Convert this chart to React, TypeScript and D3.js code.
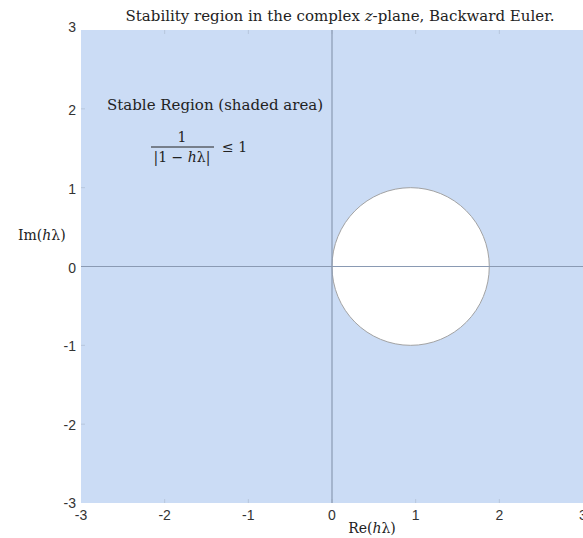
import { useEffect, useRef } from "react";
import * as d3 from "d3";

const xTicks = [-3, -2, -1, 0, 1, 2, 3];
const yTicks = [-3, -2, -1, 0, 1, 2, 3];
// unstable disc as it appears in the picture: centre and radii (re, im)
const discCentre = [0.94, 0];
const discRadius = [0.94, 1];
const titleText = "Stability region in the complex ";
const titleTail = "-plane, Backward Euler.";

const App = () => {
  const ref = useRef<SVGSVGElement>(null);

  useEffect(() => {
    const svg = d3.select(ref.current);
    svg.selectAll("*").remove();

    const x = d3.scaleLinear().domain([-3, 3]).range([81, 583]);
    const y = d3.scaleLinear().domain([-3, 3]).range([503, 30]);
    const serif = "'DejaVu Serif', 'Liberation Serif', serif";
    const sans = "'Liberation Sans', Arial, sans-serif";
    const ink = "#222";

    // shaded plane
    svg.append("rect")
      .attr("x", x(-3)).attr("y", y(3))
      .attr("width", x(3) - x(-3)).attr("height", y(-3) - y(3))
      .attr("fill", "#cbdcf5");

    // axis ticks inside the box
    const tickCol = "#b7c6dc";
    svg.append("g").selectAll("line").data(xTicks.slice(1, -1)).join("line")
      .attr("x1", d => x(d)).attr("x2", d => x(d))
      .attr("y1", y(3)).attr("y2", y(3) + 4)
      .attr("stroke", tickCol);
    svg.append("g").selectAll("line").data(xTicks.slice(1, -1)).join("line")
      .attr("x1", d => x(d)).attr("x2", d => x(d))
      .attr("y1", y(-3)).attr("y2", y(-3) - 4)
      .attr("stroke", tickCol);
    svg.append("g").selectAll("line").data(yTicks.slice(1, -1)).join("line")
      .attr("x1", x(-3)).attr("x2", x(-3) + 4)
      .attr("y1", d => y(d)).attr("y2", d => y(d))
      .attr("stroke", tickCol);

    // unstable disc
    svg.append("ellipse")
      .attr("cx", x(discCentre[0])).attr("cy", y(discCentre[1]))
      .attr("rx", x(discRadius[0]) - x(0)).attr("ry", y(0) - y(discRadius[1]))
      .attr("fill", "#ffffff")
      .attr("stroke", "#a3a3a3").attr("stroke-width", 1);

    // axes through origin
    svg.append("line")
      .attr("x1", x(-3)).attr("x2", x(3)).attr("y1", y(0)).attr("y2", y(0))
      .attr("stroke", "#8a9ab3").attr("stroke-width", 1.2);
    svg.append("line")
      .attr("x1", x(0)).attr("x2", x(0)).attr("y1", y(3)).attr("y2", y(-3))
      .attr("stroke", "#8a9ab3").attr("stroke-width", 1.2);

    // tick labels
    svg.append("g").selectAll("text").data(xTicks).join("text")
      .attr("x", d => x(d)).attr("y", 520)
      .attr("text-anchor", "middle")
      .attr("font-family", sans).attr("font-size", 14).attr("fill", "#333")
      .text(d => d);
    svg.append("g").selectAll("text").data(yTicks).join("text")
      .attr("x", 76).attr("y", d => y(d) + (d === -3 ? 5 : d === 3 ? 2 : 6))
      .attr("text-anchor", "end")
      .attr("font-family", sans).attr("font-size", 14).attr("fill", "#333")
      .text(d => d);

    // axis labels
    const xl = svg.append("text")
      .attr("x", 372).attr("y", 533).attr("text-anchor", "middle")
      .attr("font-family", serif).attr("font-size", 14).attr("fill", ink);
    xl.append("tspan").text("Re(");
    xl.append("tspan").attr("font-style", "italic").text("h");
    xl.append("tspan").text("λ)");
    const yl = svg.append("text")
      .attr("x", 18).attr("y", 240)
      .attr("font-family", serif).attr("font-size", 14).attr("fill", ink);
    yl.append("tspan").text("Im(");
    yl.append("tspan").attr("font-style", "italic").text("h");
    yl.append("tspan").text("λ)");

    // title
    const t = svg.append("text")
      .attr("x", 340).attr("y", 21).attr("text-anchor", "middle")
      .attr("font-family", serif).attr("font-size", 15).attr("fill", ink);
    t.append("tspan").text(titleText);
    t.append("tspan").attr("font-style", "italic").text("z");
    t.append("tspan").text(titleTail);

    // annotation
    svg.append("text")
      .attr("x", 107).attr("y", 110)
      .attr("font-family", serif).attr("font-size", 15).attr("fill", ink)
      .text("Stable Region (shaded area)");
    svg.append("text")
      .attr("x", 182).attr("y", 142).attr("text-anchor", "middle")
      .attr("font-family", serif).attr("font-size", 14).attr("fill", ink)
      .text("1");
    svg.append("line")
      .attr("x1", 151).attr("x2", 214).attr("y1", 147).attr("y2", 147)
      .attr("stroke", ink).attr("stroke-width", 1);
    const den = svg.append("text")
      .attr("x", 182).attr("y", 162).attr("text-anchor", "middle")
      .attr("font-family", serif).attr("font-size", 14).attr("fill", ink);
    den.append("tspan").text("|1 − ");
    den.append("tspan").attr("font-style", "italic").text("h");
    den.append("tspan").text("λ|");
    svg.append("text")
      .attr("x", 222).attr("y", 152)
      .attr("font-family", serif).attr("font-size", 14).attr("fill", ink)
      .text("≤ 1");
  }, []);

  return (
    <svg ref={ref} width={583} height={538}
      style={{ position: "absolute", left: 0, top: 0, background: "#fff" }} />
  );
};

export default App;
